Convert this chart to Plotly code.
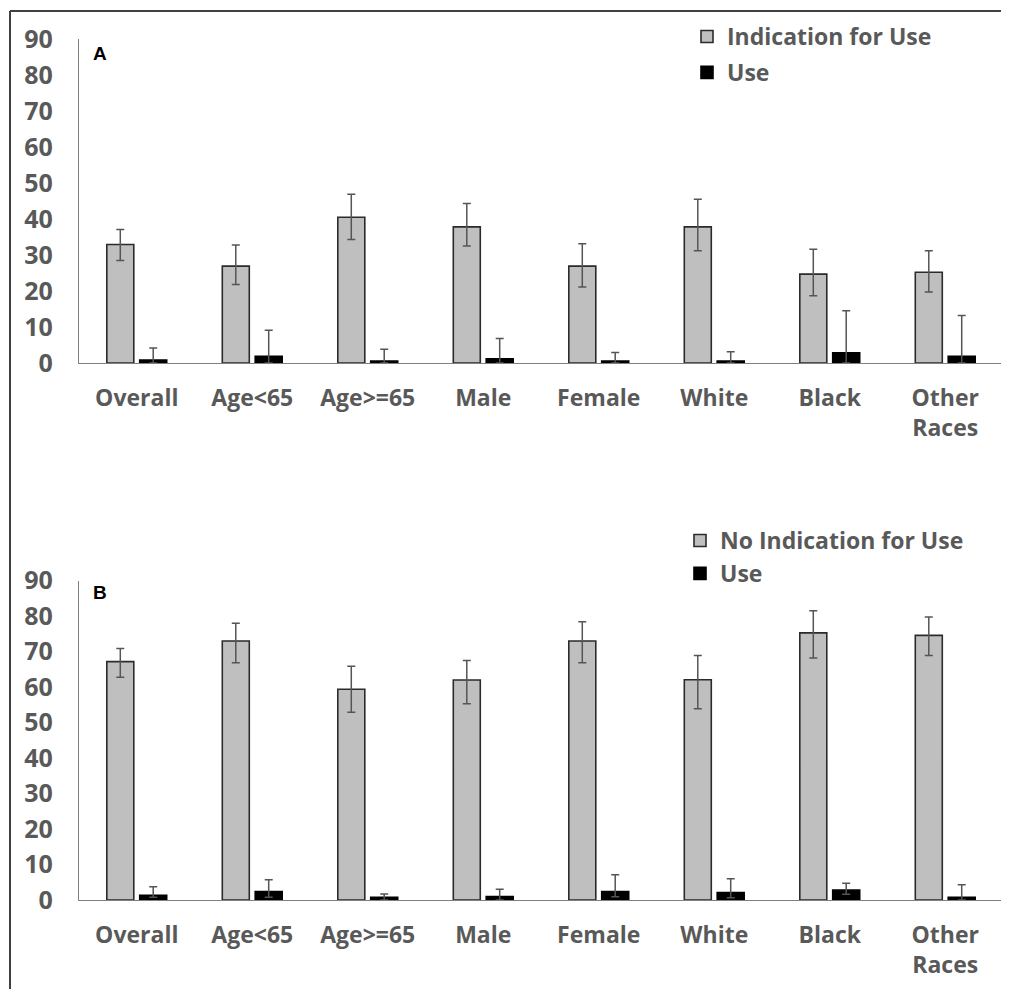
import plotly.graph_objects as go

categories = ["Overall", "Age<65", "Age>=65", "Male", "Female", "White", "Black", "Other<br>Races"]

# Panel A
a_ind = [32.9, 26.9, 40.5, 37.8, 26.9, 37.8, 24.7, 25.2]
a_ind_hi = [37.1, 32.8, 46.9, 44.3, 33.1, 45.5, 31.6, 31.2]
a_ind_lo = [28.5, 21.8, 34.3, 32.5, 21.1, 31.2, 18.7, 19.7]
a_use = [0.8, 1.85, 0.55, 1.2, 0.55, 0.55, 2.85, 1.85]
a_use_hi = [4.2, 9.1, 3.8, 6.8, 2.9, 3.1, 14.5, 13.2]
a_use_lo = [0.0, 0.0, 0.0, 0.0, 0.0, 0.0, 0.0, 0.0]

# Panel B
b_noind = [67.2, 73.0, 59.4, 62.0, 73.0, 62.1, 75.3, 74.6]
b_noind_hi = [70.9, 78.0, 65.9, 67.5, 78.4, 68.9, 81.5, 79.8]
b_noind_lo = [62.8, 66.9, 52.9, 55.3, 66.9, 53.9, 68.2, 68.9]
b_use = [1.3, 2.35, 0.75, 0.95, 2.4, 2.1, 2.8, 0.75]
b_use_hi = [3.75, 5.7, 1.7, 3.0, 7.1, 6.0, 4.7, 4.3]
b_use_lo = [0.75, 0.8, 0.0, 0.0, 0.9, 0.6, 1.6, 0.0]

y_ticks = [0, 10, 20, 30, 40, 50, 60, 70, 80, 90]

W, H = 1009, 989
OFF = 8  # page body offset
ML = 79 - OFF
MR = W - (1003 - OFF)
PW = W - ML - MR
FONT = "Open Sans"
TXT = "#595959"
GRAY = "#bfbfbf"


def px(x):
    return (x - OFF - ML) / PW


def py(y):
    return 1 - (y - OFF) / H


def err(vals, hi, lo):
    return dict(type="data", symmetric=False,
                array=[h - v for v, h in zip(vals, hi)],
                arrayminus=[v - l for v, l in zip(vals, lo)],
                color="#555555", thickness=1.5, width=4)


fig = go.Figure()
fig.add_trace(go.Bar(x=categories, y=a_ind, name="Indication for Use", xaxis="x", yaxis="y",
                     marker=dict(color=GRAY, line=dict(color="#2b2b2b", width=1.6)),
                     error_y=err(a_ind, a_ind_hi, a_ind_lo), legend="legend", legendgroup="a1"))
fig.add_trace(go.Bar(x=categories, y=a_use, name="Use", xaxis="x", yaxis="y",
                     marker=dict(color="#000000", line=dict(color="#000000", width=1.6)),
                     error_y=err(a_use, a_use_hi, a_use_lo), legend="legend", legendgroup="a2"))
fig.add_trace(go.Bar(x=categories, y=b_noind, name="No Indication for Use", xaxis="x2", yaxis="y2",
                     marker=dict(color=GRAY, line=dict(color="#2b2b2b", width=1.6)),
                     error_y=err(b_noind, b_noind_hi, b_noind_lo), legend="legend2", legendgroup="b1"))
fig.add_trace(go.Bar(x=categories, y=b_use, name="Use", xaxis="x2", yaxis="y2",
                     marker=dict(color="#000000", line=dict(color="#000000", width=1.6)),
                     error_y=err(b_use, b_use_hi, b_use_lo), legend="legend2", legendgroup="b2"))

xfont = dict(family=FONT, size=23, color=TXT, weight="bold")
yfont = dict(family=FONT, size=25, color=TXT, weight="bold")

xcommon = dict(showline=True, linecolor="#808080", linewidth=1.3, ticks="", showgrid=False,
               tickfont=xfont, ticklabelstandoff=14, domain=[0, 1], automargin=False,
               range=[-0.5, 7.5], zeroline=False, fixedrange=True)
ycommon = dict(showline=True, linecolor="#808080", linewidth=1.3, ticks="", showgrid=False,
               tickfont=yfont, ticklabelstandoff=20, range=[0, 90], automargin=False,
               tickvals=y_ticks, zeroline=False, fixedrange=True)

legfont = dict(family=FONT, size=23, color=TXT, weight="bold")

fig.update_layout(
    width=W, height=H,
    margin=dict(l=ML, r=MR, t=0, b=0, autoexpand=False),
    paper_bgcolor="white", plot_bgcolor="white",
    barmode="group", bargap=0.43, bargroupgap=0.18,
    xaxis=dict(**xcommon, anchor="y"),
    yaxis=dict(**ycommon, anchor="x", domain=[py(363), py(39)]),
    xaxis2=dict(**xcommon, anchor="y2"),
    yaxis2=dict(**ycommon, anchor="x2", domain=[py(900), py(580.7)]),
    legend=dict(x=px(687), y=py(15), xanchor="left", yanchor="top",
                font=legfont, bgcolor="rgba(0,0,0,0)", tracegroupgap=3),
    legend2=dict(x=px(680), y=py(519), xanchor="left", yanchor="top",
                 font=legfont, bgcolor="rgba(0,0,0,0)", tracegroupgap=0),
    annotations=[
        dict(text="<b>A</b>", xref="paper", yref="paper", x=px(91), y=py(54),
             xanchor="left", yanchor="middle", showarrow=False,
             font=dict(family="Liberation Sans", size=19, color="black")),
        dict(text="<b>B</b>", xref="paper", yref="paper", x=px(91), y=py(592),
             xanchor="left", yanchor="middle", showarrow=False,
             font=dict(family="Liberation Sans", size=19, color="black")),
    ],
    shapes=[
        dict(type="line", xref="paper", yref="paper",
             x0=px(10), x1=px(1030), y0=py(11), y1=py(11),
             line=dict(color="#404040", width=2)),
        dict(type="line", xref="paper", yref="paper",
             x0=px(10), x1=px(10), y0=py(11), y1=py(1030),
             line=dict(color="#404040", width=2)),
    ],
)

fig.write_html("out.html")
